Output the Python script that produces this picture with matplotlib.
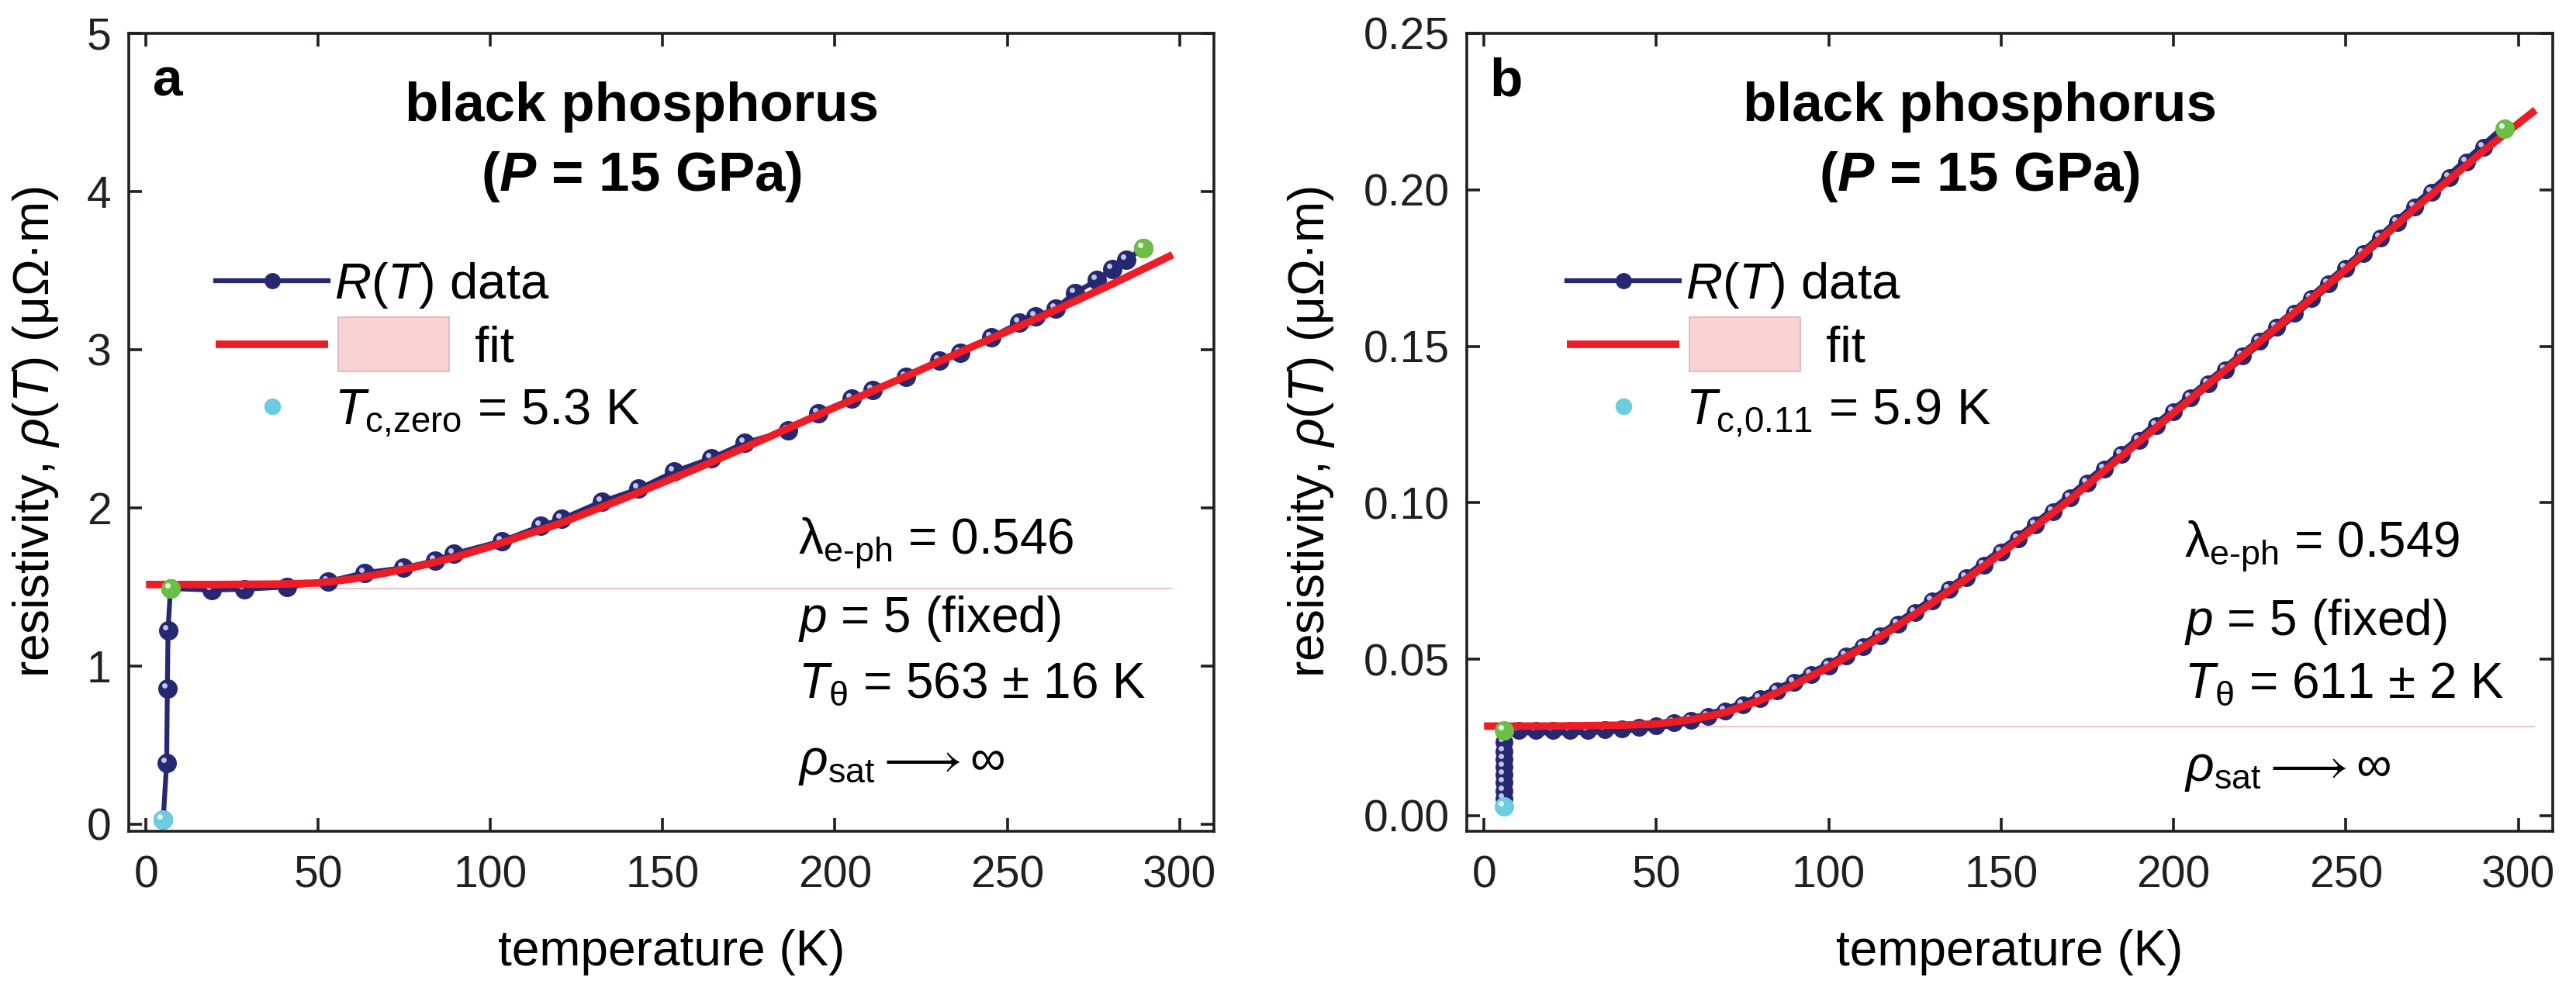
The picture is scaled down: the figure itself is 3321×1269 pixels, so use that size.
import matplotlib
matplotlib.use('Agg')
import matplotlib.pyplot as plt
from matplotlib.lines import Line2D
from matplotlib.patches import Rectangle
from matplotlib.legend_handler import HandlerBase
from matplotlib.transforms import offset_copy

plt.rcParams['font.family'] = ['Liberation Sans', 'DejaVu Sans']
plt.rcParams['mathtext.fontset'] = 'custom'
plt.rcParams['mathtext.rm'] = 'Liberation Sans'
plt.rcParams['mathtext.it'] = 'Liberation Sans:italic'
plt.rcParams['mathtext.bf'] = 'Liberation Sans:bold'
plt.rcParams['mathtext.bfit'] = 'Liberation Sans:bold:italic'

NAVY = '#262872'
HILITE = '#c3c6e8'
RED = '#ee1c25'
CYAN = '#6dcde0'
GREEN = '#6cbf45'
PINK = '#f9d3d4'
PINK_EDGE = '#e3b3b5'
PALE = '#f2c2c4'

# panel a: R(T) data at 15 GPa
temp_a = [5.0, 6.0, 6.2, 6.4, 7.1, 19, 28.6, 41, 52.9, 63.4, 74.6, 83.9, 89.3,
          103.2, 114.6, 120.6, 132.3, 143, 153.4, 164.2, 173.7, 186.3, 195.1,
          204.9, 210.9, 220.6, 230.4, 236.4, 245.4, 253.5, 258.3, 264, 269.7,
          276.1, 280.4, 284.5, 289.5]
rho_a = [0.03, 0.386, 0.855, 1.225, 1.49, 1.48, 1.485, 1.50, 1.535, 1.59, 1.62,
         1.667, 1.71, 1.79, 1.885, 1.93, 2.04, 2.12, 2.23, 2.315, 2.41, 2.49,
         2.60, 2.69, 2.745, 2.83, 2.93, 2.98, 3.08, 3.17, 3.21, 3.26, 3.36,
         3.44, 3.51, 3.57, 3.64]
fit_temp_a = [0, 20, 40, 50, 60, 70, 80, 90, 100, 120, 140, 160, 180, 200, 220,
              240, 260, 280, 298]
fit_rho_a = [1.515, 1.515, 1.518, 1.525, 1.55, 1.59, 1.635, 1.69, 1.755, 1.90,
             2.07, 2.25, 2.44, 2.635, 2.825, 3.02, 3.21, 3.41, 3.60]
rho0_a = 1.49
rho0_span_a = [5.2, 297.6]
tc_idx_a, start_idx_a = 0, 4

# panel b
temp_b = [5.8, 5.8, 5.8, 5.8, 5.8, 5.8, 5.8, 5.8, 5.8, 5.9,
          10, 15, 20, 25, 30, 35, 40, 45, 50, 55, 60, 65, 70, 75, 80, 85, 90,
          95, 100, 105, 110, 115, 120, 125, 130, 135, 140, 145, 150, 155, 160,
          165, 170, 175, 180, 185, 190, 195, 200, 205, 210, 215, 220, 225, 230,
          235, 240, 245, 250, 255, 260, 265, 270, 275, 280, 285, 290, 296]
rho_b = [0.0030, 0.0055, 0.0080, 0.0105, 0.0130, 0.0155, 0.0180, 0.0205,
         0.0235, 0.0272,
         0.0272, 0.0272, 0.0272, 0.0272, 0.0273, 0.0275, 0.0278, 0.0282,
         0.0288, 0.0296, 0.0305, 0.0318, 0.0334, 0.0353, 0.0375, 0.0399,
         0.0425, 0.0451, 0.0478, 0.0509, 0.0541, 0.0575, 0.0611, 0.0648,
         0.0685, 0.0722, 0.0760, 0.0801, 0.0843, 0.0885, 0.0928, 0.0972,
         0.1016, 0.1062, 0.1108, 0.1154, 0.1200, 0.1245, 0.1290, 0.1335,
         0.1380, 0.1425, 0.1470, 0.1515, 0.1560, 0.1606, 0.1653, 0.1700,
         0.1748, 0.1796, 0.1845, 0.1895, 0.1945, 0.1993, 0.2040, 0.2088,
         0.2136, 0.2195]
fit_temp_b = [0, 20, 40, 50, 60, 70, 80, 90, 100, 110, 120, 130, 140, 150, 170,
              190, 210, 230, 250, 270, 290, 305]
fit_rho_b = [0.0286, 0.0286, 0.0289, 0.0293, 0.0306, 0.0330, 0.0368, 0.0418,
             0.0475, 0.0538, 0.0607, 0.0680, 0.0757, 0.0838, 0.1010, 0.1195,
             0.1378, 0.1560, 0.1745, 0.1940, 0.2125, 0.2255]
rho0_b = 0.0285
rho0_span_b = [8, 304.7]
tc_idx_b, start_idx_b = 0, 9

panels = [
    dict(ax_left=166, ax_width=1399, letter='a', temp=temp_a, rho=rho_a,
         fit_t=fit_temp_a, fit_r=fit_rho_a, rho0=rho0_a, rho0_span=rho0_span_a,
         tc_idx=tc_idx_a, start_idx=start_idx_a,
         ylim=(-0.045, 5.0), yticks=[0, 1, 2, 3, 4, 5], yfmt='{:.0f}',
         ms=17, lw=4.5, tc_label=r'$T_{\text{c,zero}}$ = 5.3 K',
         lam='0.546', ttheta='563 ± 16 K', txt_x=0.617,
         txt_y=[0.3605, 0.266, 0.184, 0.0845], leg_x=0.080, ylab_x=-0.062),
    dict(ax_left=1891, ax_width=1400, letter='b', temp=temp_b, rho=rho_b,
         fit_t=fit_temp_b, fit_r=fit_rho_b, rho0=rho0_b, rho0_span=rho0_span_b,
         tc_idx=tc_idx_b, start_idx=start_idx_b,
         ylim=(-0.005, 0.25), yticks=[0, 0.05, 0.10, 0.15, 0.20, 0.25],
         yfmt='{:.2f}', ms=15.5, lw=9, tc_label=r'$T_{\text{c,0.11}}$ = 5.9 K',
         lam='0.549', ttheta='611 ± 2 K', txt_x=0.661,
         txt_y=[0.357, 0.262, 0.184, 0.077], leg_x=0.092, ylab_x=-0.120),
]


class FitHandler(HandlerBase):
    def create_artists(self, legend, orig_handle, xdescent, ydescent,
                       width, height, fontsize, trans):
        y = height / 2 - ydescent
        line = Line2D([-xdescent, -xdescent + width], [y, y], color=RED,
                      lw=7, solid_capstyle='butt', transform=trans)
        box = Rectangle((-xdescent + width + 9, y - 25), 103, 50,
                        facecolor=PINK, edgecolor=PINK_EDGE, lw=1.2,
                        transform=trans)
        return [line, box]


fig = plt.figure(figsize=(33.21, 12.69), dpi=100)

for p in panels:
    ax = fig.add_axes([p['ax_left'] / 3321, 1 - 1072 / 1269,
                       p['ax_width'] / 3321, 1029 / 1269])
    hl = offset_copy(ax.transData, fig=fig, x=-4, y=4, units='dots')

    ax.plot(p['rho0_span'], [p['rho0'], p['rho0']], color=PALE, lw=1.4,
            zorder=1)
    ax.plot(p['temp'], p['rho'], color=NAVY, lw=p['lw'], marker='o',
            ms=p['ms'], mec=NAVY, mfc=NAVY, zorder=2)
    ax.plot(p['temp'], p['rho'], ls='none', marker='o', ms=5,
            mec='none', mfc=HILITE, transform=hl, zorder=3)
    ax.plot(p['fit_t'], p['fit_r'], color=RED, lw=7, zorder=4,
            solid_capstyle='butt')
    # T_c point and the two ends of the fitted range
    i0, i1 = p['tc_idx'], p['start_idx']
    ax.plot(p['temp'][i0], p['rho'][i0], 'o', ms=17, color=CYAN, zorder=5)
    ax.plot([p['temp'][i1], p['temp'][-1]], [p['rho'][i1], p['rho'][-1]],
            'o', ms=17, color=GREEN, ls='none', zorder=5)
    ax.plot([p['temp'][i0], p['temp'][i1], p['temp'][-1]],
            [p['rho'][i0], p['rho'][i1], p['rho'][-1]], ls='none',
            marker='o', ms=5, mec='none', mfc='#e8f6ea', transform=hl,
            zorder=6)

    ax.set_xlim(-5, 310)
    ax.set_ylim(*p['ylim'])
    ax.set_xticks([0, 50, 100, 150, 200, 250, 300])
    ax.set_yticks(p['yticks'])
    ax.set_yticklabels([p['yfmt'].format(v) for v in p['yticks']])
    ax.tick_params(direction='in', top=True, right=True, length=12,
                   width=2.6, labelsize=41, colors='#231f20')
    ax.tick_params(axis='x', pad=22)
    ax.tick_params(axis='y', pad=16)
    for s in ax.spines.values():
        s.set_linewidth(2.6)
        s.set_color('#231f20')

    ax.set_xlabel('temperature (K)', fontsize=46, labelpad=30)
    ax.set_ylabel(r'resistivity, $\rho(T)$ (μΩ·m)', fontsize=46)
    ax.yaxis.set_label_coords(p['ylab_x'], 0.5)

    ax.text(0.036, 0.939, p['letter'], transform=ax.transAxes, fontsize=50,
            fontweight='bold', ha='center', va='center')
    ax.text(0.4725, 0.908, 'black phosphorus', transform=ax.transAxes,
            fontsize=51, fontweight='bold', ha='center', va='center')
    ax.text(0.4725, 0.820, '(' + r'$\mathbfit{P}$' + ' = 15 GPa)',
            transform=ax.transAxes, fontsize=51, fontweight='bold',
            ha='center', va='center')

    lines = [r'$\mathrm{\lambda}_{\text{e-ph}}$ = ' + p['lam'],
             r'$p$ = 5 (fixed)',
             r'$T_{\mathrm{\theta}}$ = ' + p['ttheta'],
             r'$\rho_{\rm sat} \longrightarrow \infty$']
    for s, yy in zip(lines, p['txt_y']):
        ax.text(p['txt_x'], yy, s, transform=ax.transAxes, fontsize=46,
                ha='left', va='center')

    h_data = Line2D([], [], color=NAVY, lw=4.5, marker='o', ms=14,
                    mfc=NAVY, mec=NAVY)
    h_fit = Line2D([], [], color=RED, lw=7)
    h_tc = Line2D([], [], ls='none', marker='o', ms=14.5, color=CYAN)
    ax.legend([h_data, h_fit, h_tc],
              [r'$R(T)$ data', ' ' * 10 + 'fit', p['tc_label']],
              handler_map={h_fit: FitHandler()},
              loc='upper left', bbox_to_anchor=(p['leg_x'], 0.715),
              frameon=False, fontsize=47, borderpad=0, borderaxespad=0,
              handlelength=2.23, handletextpad=0.11, labelspacing=0.3)

fig.savefig('out.png', dpi=100)
